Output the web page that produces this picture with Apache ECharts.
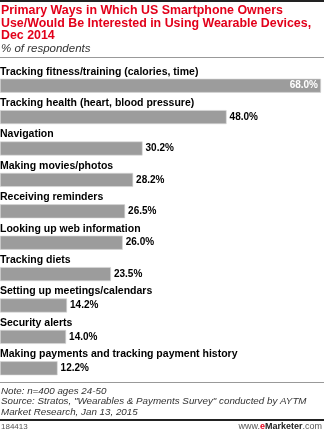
<!DOCTYPE html>
<html>
<head>
<meta charset="utf-8">
<script src="https://cdn.jsdelivr.net/npm/echarts@6/dist/echarts.min.js"></script>
<style>
  html, body { margin: 0; padding: 0; background: #fff; }
  #chart { width: 324px; height: 430px; }
</style>
</head>
<body>
<div id="chart"></div>
<script>
// Survey categories, top to bottom
const categories = [
  'Tracking fitness/training (calories, time)',
  'Tracking health (heart, blood pressure)',
  'Navigation',
  'Making movies/photos',
  'Receiving reminders',
  'Looking up web information',
  'Tracking diets',
  'Setting up meetings/calendars',
  'Security alerts',
  'Making payments and tracking payment history'
];
// Share of respondents, %
const values = [68.0, 48.0, 30.2, 28.2, 26.5, 26.0, 23.5, 14.2, 14.0, 12.2];

const titleLines = [
  'Primary Ways in Which US Smartphone Owners',
  'Use/Would Be Interested in Using Wearable Devices,',
  'Dec 2014'
];
const subtitle = '% of respondents';
const noteLines = [
  'Note: n=400 ages 24-50',
  'Source: Stratos, "Wearables & Payments Survey" conducted by AYTM',
  'Market Research, Jan 13, 2015'
];
const chartId = '184413';

const FONT = '"Liberation Sans", Arial, sans-serif';
const chart = echarts.init(document.getElementById('chart'), null, { renderer: 'canvas' });

chart.setOption({
  animation: false,
  grid: {
    left: 0, right: 3, top: 70, bottom: 46,
    containLabel: false, outerBoundsMode: 'none'
  },
  xAxis: {
    type: 'value', min: 0, max: 68,
    show: false
  },
  yAxis: {
    type: 'category',
    data: categories,
    inverse: true,
    axisLine: { show: false },
    axisTick: { show: false },
    splitLine: { show: false },
    // category names sit above each bar
    axisLabel: {
      inside: true,
      margin: 0,
      align: 'left',
      verticalAlign: 'bottom',
      padding: [0, 0, 8.5, 0],
      color: '#000',
      fontFamily: FONT,
      fontWeight: 'bold',
      fontSize: 10.5
    },
    z: 10
  },
  series: [{
    type: 'bar',
    data: values.map((v, i) => ({
      value: v,
      label: i === 0
        ? { position: 'insideRight', color: '#fff' }
        : { position: 'right', color: '#000' }
    })),
    barWidth: 14,
    itemStyle: { color: '#9c9c9c', borderColor: '#d8d8d8', borderWidth: 0.6 },
    label: {
      show: true,
      fontFamily: FONT,
      fontWeight: 'bold',
      fontSize: 10,
      distance: 3,
      formatter: p => p.value.toFixed(1) + '%'
    }
  }],
  graphic: [
    { type: 'rect', shape: { x: 0, y: 0, width: 324, height: 2 }, style: { fill: '#222' } },
    ...titleLines.map((t, i) => ({
      type: 'text', left: 1, top: 5 + i * 12.5,
      style: { text: t, fill: '#e2001a', font: 'bold 12.4px ' + FONT }
    })),
    { type: 'text', left: 1, top: 43, style: { text: subtitle, fill: '#333', font: 'italic 11.5px ' + FONT } },
    { type: 'rect', shape: { x: 0, y: 57, width: 324, height: 1 }, style: { fill: '#999' } },
    { type: 'rect', shape: { x: 0, y: 382, width: 324, height: 1 }, style: { fill: '#999' } },
    ...noteLines.map((t, i) => ({
      type: 'text', left: 1, top: 386 + i * 10.5,
      style: { text: t, fill: '#333', font: 'italic 9.8px ' + FONT }
    })),
    { type: 'rect', shape: { x: 0, y: 419, width: 324, height: 2 }, style: { fill: '#222' } },
    { type: 'text', left: 1, top: 423, style: { text: chartId, fill: '#555', font: '8px ' + FONT } },
    {
      type: 'text', right: 2, top: 422,
      style: {
        text: '{a|www.}{b|e}{c|Marketer}{a|.com}',
        rich: {
          a: { fill: '#555', font: '9px ' + FONT },
          b: { fill: '#e2001a', font: 'bold 9px ' + FONT },
          c: { fill: '#222', font: 'bold 9px ' + FONT }
        }
      }
    }
  ]
});
</script>
</body>
</html>
